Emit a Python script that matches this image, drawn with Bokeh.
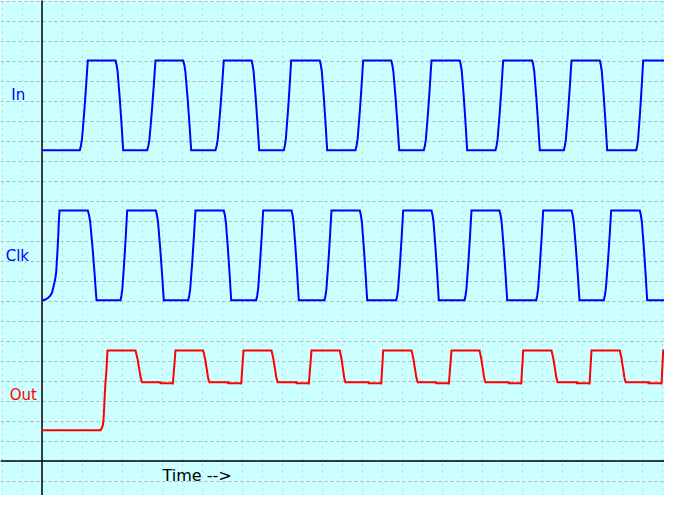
from bokeh.plotting import figure
from bokeh.models import Range1d, Grid, SingleIntervalTicker, Span
from bokeh.core.properties import value
from bokeh.embed import file_html
from bokeh.resources import INLINE

# ---------------- data (time units: 20 per grid division; level units: 20 per division)
in_low, in_high = 310.8, 400.5
clk_low, clk_high = 160.8, 250.5
out_low, out_high = 30.8, 110.5
out_mid, out_sag, out_dip = 78.8, 77.8, 76.5
t_end = 650.0

# normalised edge shape (fraction of time vs fraction of swing)
edge_t = [0, 0.14, 0.27, 0.41, 0.55, 0.68, 0.80, 0.90, 1.0]
edge_f = [0, 0.05, 0.12, 0.27, 0.42, 0.58, 0.73, 0.87, 1.0]
out_fall_t = [0, 0.15, 0.30, 0.46, 0.60, 0.75, 0.90, 1.0]
out_fall_f = [0, 0.13, 0.26, 0.47, 0.63, 0.84, 0.95, 1.0]

# In signal edges
in_rise_start = [37.8, 105.2, 173.5, 241.8, 313.5, 381.8, 453.5, 521.8, 594.2]
in_rise_end = [45.8, 113.5, 181.8, 249.2, 321.2, 389.5, 461.2, 529.5, 601.2]
in_fall_start = [73.5, 141.2, 209.5, 277.8, 349.2, 417.8, 490.2, 557.8, 630.2]
in_fall_end = [81.2, 149.2, 217.2, 285.2, 357.2, 425.2, 497.8, 565.2, 637.8]

# Clk signal: initial charge curve, then edges
clk_init_t = [0, 3.5, 6.2, 8.5, 10.2, 11.2, 12.5, 13.5, 14.2, 14.8, 15.5, 16.2, 16.8, 17.5]
clk_init_y = [160.8, 161.5, 163.2, 165.5, 168.8, 173.2, 178.8, 183.8, 188.8, 198.8,
              210.5, 223.8, 238.8, 250.5]
clk_fall_start = [45.8, 113.8, 181.8, 249.5, 317.8, 389.5, 457.5, 529.5, 597.8]
clk_fall_end = [54.5, 121.8, 189.2, 256.8, 325.2, 396.8, 465.2, 537.5, 605.2]
clk_rise_start = [78.5, 146.2, 214.2, 282.5, 354.2, 422.5, 494.2, 561.8, 634.2]
clk_rise_end = [85.2, 153.5, 221.2, 289.5, 361.2, 429.5, 501.2, 569.2, 641.2]

# Out signal
out_init_t = [0, 58.5, 59.8, 60.8, 61.5, 62.2, 62.8, 63.5, 64.2, 64.8, 65.5]
out_init_y = [30.8, 30.8, 33.2, 35.5, 40.5, 53.8, 67.2, 78.8, 87.2, 97.2, 110.5]
out_high_start = [65.5, 133.5, 201.5, 269.5, 341.2, 409.5, 481.2, 549.5, 621.2]
out_fall_start = [93.5, 161.2, 229.5, 297.8, 369.5, 437.5, 509.5, 577.8]
out_mid_start = [100.2, 167.5, 235.8, 303.5, 375.8, 443.5, 515.8, 583.8]
out_sag_start = [118.5, 186.2, 254.5, 326.8, 394.2, 466.8, 534.8, 606.5]
out_rise_start = [130.8, 199.2, 266.8, 339.2, 406.8, 479.2, 547.5, 619.5]

labels = ["In", "Clk", "Out"]
time_label = "Time -->"


def edge(t0, t1, y0, y1, shape_t, shape_f):
    xs = [t0 + s * (t1 - t0) for s in shape_t]
    ys = [y0 + f * (y1 - y0) for f in shape_f]
    return xs, ys


# build In
in_x, in_y = [0.0], [in_low]
for i in range(len(in_rise_start)):
    xs, ys = edge(in_rise_start[i], in_rise_end[i], in_low, in_high, edge_t, edge_f)
    in_x += xs; in_y += ys
    xs, ys = edge(in_fall_start[i], in_fall_end[i], in_high, in_low, edge_t, edge_f)
    in_x += xs; in_y += ys
in_x.append(t_end); in_y.append(in_low)

# build Clk
clk_x, clk_y = list(clk_init_t), list(clk_init_y)
for i in range(len(clk_fall_start)):
    xs, ys = edge(clk_fall_start[i], clk_fall_end[i], clk_high, clk_low, edge_t, edge_f)
    clk_x += xs; clk_y += ys
    xs, ys = edge(clk_rise_start[i], clk_rise_end[i], clk_low, clk_high, edge_t, edge_f)
    clk_x += xs; clk_y += ys
clk_x.append(t_end); clk_y.append(clk_high)

# build Out
out_x, out_y = list(out_init_t), list(out_init_y)
for i in range(len(out_fall_start)):
    xs, ys = edge(out_fall_start[i], out_mid_start[i], out_high, out_mid, out_fall_t, out_fall_f)
    out_x += xs; out_y += ys
    out_x += [out_sag_start[i], out_sag_start[i], out_rise_start[i], out_rise_start[i],
              out_high_start[i + 1]]
    out_y += [out_mid, out_sag, out_sag, out_dip, out_high]
out_x.append(t_end); out_y.append(out_high)

# ---------------- figure
p = figure(width=664, height=495,
           x_range=Range1d(-41.5, 622.5), y_range=Range1d(-34.5, 460.5),
           x_axis_type=None, y_axis_type=None,
           toolbar_location=None, output_backend="svg", min_border=0,
           background_fill_color="#ccffff", border_fill_color="#ccffff",
           outline_line_color=None)

p.add_layout(Grid(dimension=0, ticker=SingleIntervalTicker(interval=20),
                  grid_line_color="#b4b4b4", grid_line_dash="1 5", grid_line_width=1))
p.add_layout(Grid(dimension=1, ticker=SingleIntervalTicker(interval=20),
                  grid_line_color="#b4b4b4", grid_line_dash="3 3", grid_line_width=1))

# axes lines
p.add_layout(Span(location=0, dimension="width", line_color="black", line_width=1.5))
p.segment(x0=[0], y0=[-40.5], x1=[0], y1=[470], line_color="black", line_width=1.5)

p.line(in_x, in_y, line_color="#0000ff", line_width=2, line_join="miter")
p.line(clk_x, clk_y, line_color="#0000ff", line_width=2, line_join="miter")
p.line(out_x, out_y, line_color="#ff0000", line_width=2, line_join="miter")

p.text(x=[-30.7, -36.3, -32.3], y=[366.0, 205.3, 66.0], text=labels,
       text_color=["#0000ff", "#0000ff", "#ff0000"],
       text_font=value("DejaVu Sans"), text_font_size="15px",
       text_align="left", text_baseline="alphabetic")
p.text(x=[120.5], y=[-14.0], text=[time_label], text_color="black",
       text_font=value("DejaVu Sans"), text_font_size="16px",
       text_align="left", text_baseline="alphabetic")

open("out.html", "w").write(file_html(p, INLINE))
